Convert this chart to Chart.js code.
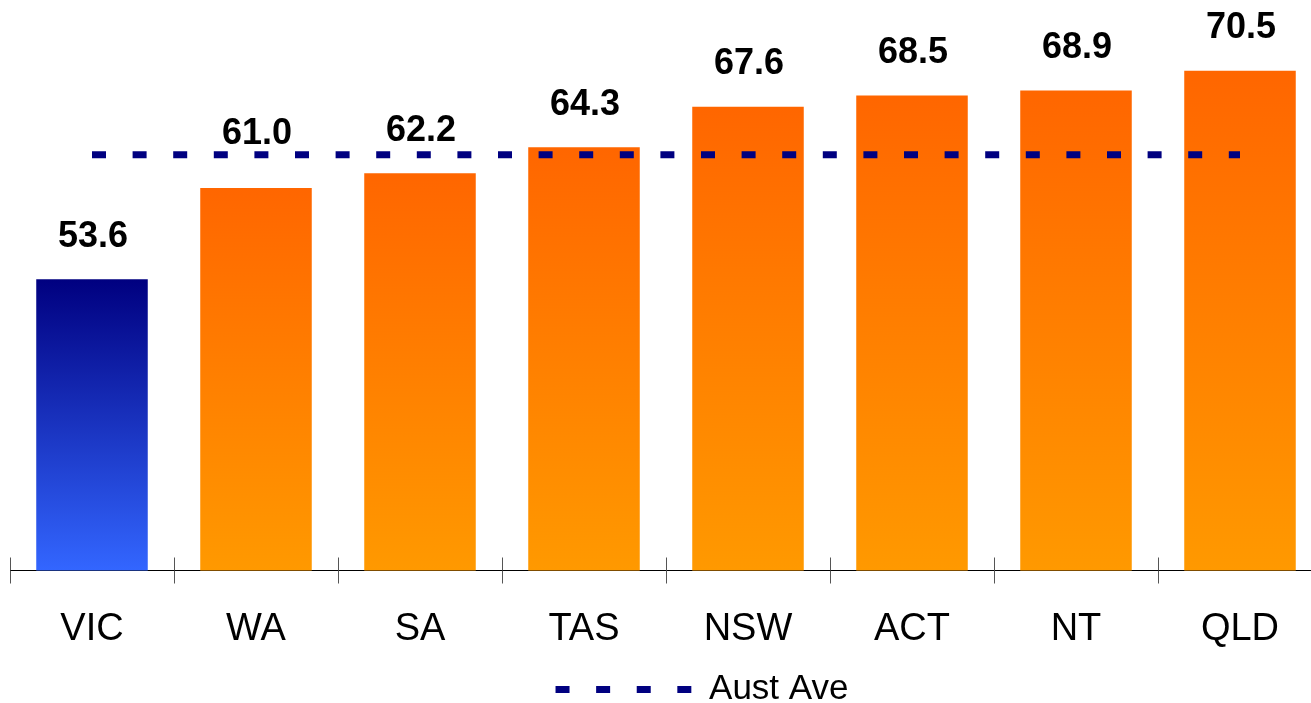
<!DOCTYPE html>
<html>
<head>
<meta charset="utf-8">
<script src="https://cdn.jsdelivr.net/npm/chart.js@4/dist/chart.umd.min.js"></script>
<style>
  html, body { margin: 0; padding: 0; background: #fff; overflow: hidden; }
  #wrap { width: 1322px; height: 703px; }
</style>
</head>
<body>
<div id="wrap"><canvas id="chart"></canvas></div>
<script>
// chart data
const states = ['VIC', 'WA', 'SA', 'TAS', 'NSW', 'ACT', 'NT', 'QLD'];
const stateValues = [53.6, 61.0, 62.2, 64.3, 67.6, 68.5, 68.9, 70.5];
const austAve = [63.7, 63.7, 63.7, 63.7, 63.7, 63.7, 63.7, 63.7];
const highlighted = ['VIC'];
const aveLabel = 'Aust Ave';

const FONT = '"Liberation Sans", Arial, sans-serif';
const DASH = [14, 26.6];
// WA label is lifted clear of the average line
const labelLift = { WA: 12 };

// vertical gradient per bar, from its top down to the axis
function barFill(c) {
  const chart = c.chart;
  const hi = highlighted.includes(states[c.dataIndex]);
  const topColor = hi ? '#000080' : '#FF6600';
  const bottomColor = hi ? '#3366FF' : '#FF9900';
  if (!chart.chartArea || c.type !== 'data') return bottomColor;
  const y = chart.scales.y;
  const top = y.getPixelForValue(c.parsed.y);
  const bottom = y.getPixelForValue(y.min);
  const g = chart.ctx.createLinearGradient(0, top, 0, bottom);
  g.addColorStop(0, topColor);
  g.addColorStop(1, bottomColor);
  return g;
}

// bold value above each bar
const valueLabels = {
  id: 'valueLabels',
  afterDatasetsDraw(chart) {
    const ctx = chart.ctx;
    const meta = chart.getDatasetMeta(0);
    ctx.save();
    ctx.font = 'bold 36px ' + FONT;
    ctx.fillStyle = '#000';
    ctx.textAlign = 'center';
    ctx.textBaseline = 'alphabetic';
    meta.data.forEach((bar, i) => {
      const lift = labelLift[states[i]] || 0;
      ctx.fillText(stateValues[i].toFixed(1), bar.x + 1, bar.y - 32.5 - lift);
    });
    ctx.restore();
  }
};

// category tick marks that cross the axis line
const crossTicks = {
  id: 'crossTicks',
  afterLayout(chart) {
    // legend sits a little right of centre in the original
    chart.legend.left = 82;
  },
  afterDraw(chart) {
    const x = chart.scales.x;
    const area = chart.chartArea;
    const ctx = chart.ctx;
    const half = (x.getPixelForValue(1) - x.getPixelForValue(0)) / 2;
    ctx.save();
    ctx.strokeStyle = '#555';
    ctx.lineWidth = 1;
    ctx.beginPath();
    for (let i = 0; i <= states.length; i++) {
      const px = Math.round(x.getPixelForValue(i) - half) + 0.5;
      ctx.moveTo(px, area.bottom - 13);
      ctx.lineTo(px, area.bottom);
    }
    ctx.stroke();
    ctx.restore();
  }
};

new Chart(document.getElementById('chart').getContext('2d'), {
  data: {
    labels: states,
    datasets: [
      {
        type: 'bar',
        label: '',
        data: stateValues,
        backgroundColor: barFill,
        barPercentage: 0.68,
        categoryPercentage: 1,
        order: 1
      },
      {
        type: 'line',
        label: aveLabel,
        data: austAve,
        borderColor: '#000080',
        backgroundColor: '#000080',
        borderWidth: 7,
        borderDash: DASH,
        pointRadius: 0,
        pointStyle: 'line',
        fill: false,
        order: 0
      }
    ]
  },
  options: {
    responsive: true,
    maintainAspectRatio: false,
    animation: false,
    layout: { padding: { left: 10, right: 0, top: 3, bottom: -14 } },
    scales: {
      x: {
        grid: { display: true, drawOnChartArea: false, drawTicks: true, tickLength: 13, color: '#555', offset: true },
        border: { display: true, color: '#000', width: 1 },
        ticks: { color: '#000', font: { family: FONT, size: 38 }, padding: 23 },
        afterFit: scale => { scale.height = 101.5; }
      },
      y: {
        display: false,
        min: 30,
        max: 76
      }
    },
    plugins: {
      tooltip: { enabled: false },
      legend: {
        position: 'bottom',
        labels: {
          generateLabels: chart => Chart.defaults.plugins.legend.labels.generateLabels(chart)
            .filter(item => item.text === aveLabel)
            .map(item => Object.assign(item, { lineDash: DASH, lineWidth: 7, strokeStyle: '#000080' })),
          usePointStyle: true,
          pointStyleWidth: 136,
          color: '#000',
          font: { family: FONT, size: 35, lineHeight: 1 },
          padding: 0
        }
      }
    }
  },
  plugins: [valueLabels, crossTicks]
});
</script>
</body>
</html>
